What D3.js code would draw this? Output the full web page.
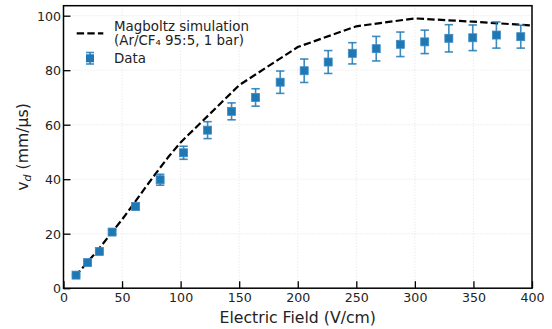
<!DOCTYPE html>
<html><head><meta charset="utf-8">
<script src="https://cdn.jsdelivr.net/npm/d3@7"></script>
<style>body{margin:0;background:#fff}svg{display:block;font-family:"DejaVu Sans",sans-serif}</style>
</head><body><svg id="c" width="552" height="329"></svg>
<script>
const dataE = [10.7, 20.6, 30.6, 41.5, 61.6, 82.5, 102.5, 123, 143.5, 164, 185, 205.5, 226, 246.6, 267, 287.6, 308.4, 329, 349.4, 369.6, 390.4];
const dataV = [4.8, 9.4, 13.5, 20.6, 30.0, 39.8, 49.7, 58.0, 64.9, 70.0, 75.6, 79.8, 83.0, 86.2, 87.9, 89.5, 90.4, 91.7, 91.9, 92.9, 92.3];
const dataErr = [0.4, 0.5, 0.6, 0.8, 1.2, 2.0, 2.4, 3.1, 3.1, 3.2, 4.1, 4.3, 4.2, 3.9, 4.5, 4.5, 4.3, 5.0, 4.7, 4.8, 4.2];
const simE = [10, 20, 30, 40, 50, 60, 70, 80, 90, 100, 150, 200, 250, 300, 350, 400];
const simV = [4.4, 9.3, 14.3, 19.8, 25.2, 31.0, 37.0, 42.8, 48.4, 53.5, 74.5, 88.5, 96.1, 99.0, 97.8, 96.4];
const xTicks = [0, 50, 100, 150, 200, 250, 300, 350, 400];
const yTicks = [0, 20, 40, 60, 80, 100];
const legendLabels = ["Magboltz simulation", "(Ar/CF\u2084 95:5, 1 bar)", "Data"];
const xLabel = "Electric Field (V/cm)";

const svg = d3.select("#c");
const L = 63.5, R = 532, T = 5.7, B = 288.2;
const x = d3.scaleLinear().domain([0, 400]).range([L, R]);
const y = d3.scaleLinear().domain([0, 100]).range([B, 15.7]);
const blue = "#1f77b4";

// grid
const g = svg.append("g");
g.selectAll(".gx").data(xTicks).join("line")
  .attr("x1", d => x(d)).attr("x2", d => x(d)).attr("y1", T).attr("y2", B)
  .attr("stroke", "#d9d9d9").attr("stroke-width", 0.8).attr("stroke-dasharray", "1,2");
g.selectAll(".gy").data(yTicks).join("line")
  .attr("y1", d => y(d)).attr("y2", d => y(d)).attr("x1", L).attr("x2", R)
  .attr("stroke", "#d9d9d9").attr("stroke-width", 0.8).attr("stroke-dasharray", "1,2");

// axes (ticks inward)
const xa = svg.append("g").attr("transform", `translate(0,${B})`)
  .call(d3.axisBottom(x).tickValues(xTicks).tickSizeInner(-7).tickSizeOuter(0).tickPadding(5.3));
const ya = svg.append("g").attr("transform", `translate(${L},0)`)
  .call(d3.axisLeft(y).tickValues(yTicks).tickSizeInner(-7).tickSizeOuter(0).tickPadding(2.5));
[xa, ya].forEach(a => {
  a.select(".domain").remove();
  a.selectAll(".tick line").attr("stroke", "#000").attr("stroke-width", 1.3);
  a.selectAll(".tick text").attr("font-family", "DejaVu Sans").attr("font-size", 12.6).attr("fill", "#222");
});
ya.selectAll(".tick text").attr("dy", "0.36em");

// simulation line
const line = d3.line().x((d, i) => x(simE[i])).y((d, i) => y(simV[i]));
svg.append("path").datum(simV).attr("d", line).attr("fill", "none")
  .attr("stroke", "#000").attr("stroke-width", 2.2).attr("stroke-dasharray", "7.4,3.2");

// data error bars
const pts = svg.append("g");
const idx = d3.range(dataE.length);
pts.selectAll(".eb").data(idx).join("line")
  .attr("x1", i => x(dataE[i])).attr("x2", i => x(dataE[i]))
  .attr("y1", i => y(dataV[i] - dataErr[i])).attr("y2", i => y(dataV[i] + dataErr[i]))
  .attr("stroke", blue).attr("stroke-opacity", 0.85).attr("stroke-width", 1.6);
[-1, 1].forEach(s => {
  pts.selectAll(".cap" + s).data(idx).join("line")
    .attr("x1", i => x(dataE[i]) - 4.2).attr("x2", i => x(dataE[i]) + 4.2)
    .attr("y1", i => y(dataV[i] + s * dataErr[i])).attr("y2", i => y(dataV[i] + s * dataErr[i]))
    .attr("stroke", blue).attr("stroke-opacity", 0.85).attr("stroke-width", 1.6);
});
pts.selectAll(".m").data(idx).join("rect")
  .attr("x", i => x(dataE[i]) - 4).attr("y", i => y(dataV[i]) - 4)
  .attr("width", 8).attr("height", 8).attr("fill", blue)
  .attr("stroke", "#3f8cc4").attr("stroke-width", 0.8);

// frame
svg.append("rect").attr("x", L).attr("y", T).attr("width", R - L).attr("height", B - T)
  .attr("fill", "none").attr("stroke", "#000").attr("stroke-width", 1.5);

// legend
const lg = svg.append("g");
lg.append("line").attr("x1", 76.7).attr("x2", 103.3).attr("y1", 33.3).attr("y2", 33.3)
  .attr("stroke", "#000").attr("stroke-width", 2.2).attr("stroke-dasharray", "7.4,3.2");
lg.append("line").attr("x1", 90).attr("x2", 90).attr("y1", 52.5).attr("y2", 64)
  .attr("stroke", blue).attr("stroke-opacity", 0.85).attr("stroke-width", 1.6);
[52.5, 64].forEach(yy => lg.append("line").attr("x1", 86).attr("x2", 94).attr("y1", yy).attr("y2", yy)
  .attr("stroke", blue).attr("stroke-opacity", 0.85).attr("stroke-width", 1.6));
lg.append("rect").attr("x", 86).attr("y", 54.3).attr("width", 8).attr("height", 8).attr("fill", blue);
const lt = [[30.5, legendLabels[0]], [45, legendLabels[1]], [63, legendLabels[2]]];
lg.selectAll("text").data(lt).join("text").attr("x", 114).attr("y", d => d[0])
  .attr("font-size", 13.4).attr("fill", "#222").text(d => d[1]);

// axis labels
svg.append("text").attr("x", (L + R) / 2).attr("y", 323).attr("text-anchor", "middle")
  .attr("font-size", 15.7).attr("fill", "#222").text(xLabel);
const yl = svg.append("text").attr("transform", "translate(27.5,147) rotate(-90)")
  .attr("text-anchor", "middle").attr("font-size", 15.7).attr("fill", "#222");
yl.append("tspan").text("v");
yl.append("tspan").attr("font-size", 11).attr("font-style", "italic").attr("dy", 3).text("d");
yl.append("tspan").attr("dy", -3).text(" (mm/\u03bcs)");
</script></body></html>
